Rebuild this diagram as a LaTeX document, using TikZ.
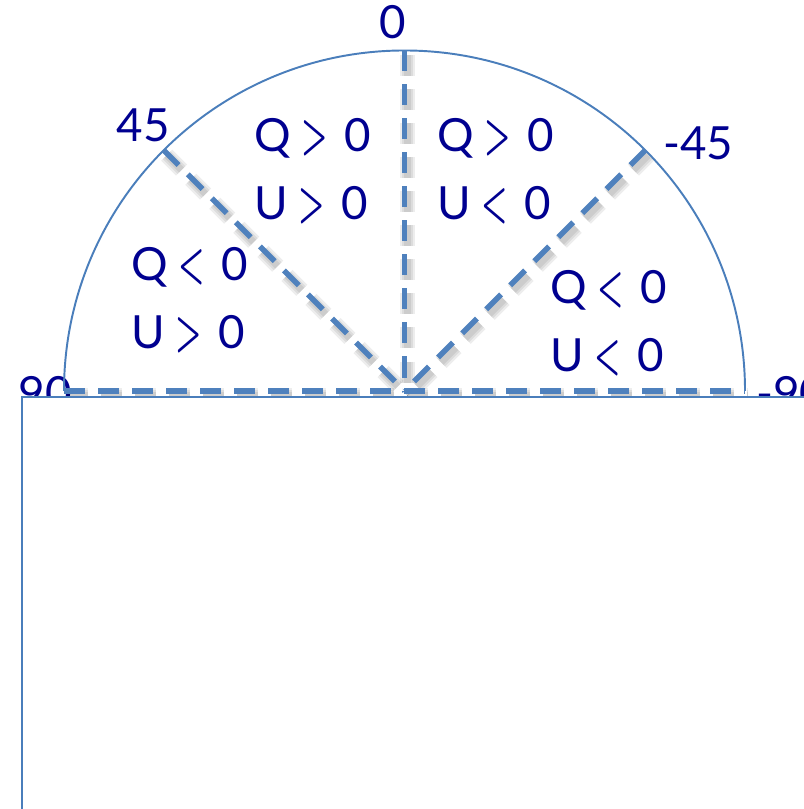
\documentclass[tikz,border=0pt]{standalone}
\usepackage{fontspec}
\usepackage{graphicx}
\setmainfont{Lato}
\usetikzlibrary{calc}
\definecolor{arcblue}{HTML}{4A7EBB}
\definecolor{dashblue}{HTML}{4F81BD}
\definecolor{lblnavy}{HTML}{000090}
\newcommand{\qgt}{\hspace{0.1cm}\scalebox{0.7}[1.25]{\boldmath$>$}\hspace{0.17cm}}
\newcommand{\qlt}{\hspace{0.1cm}\scalebox{0.7}[1.25]{\boldmath$<$}\hspace{0.17cm}}
\begin{document}
\begin{tikzpicture}[
    lbl/.style={text=lblnavy,font=\fontsize{13}{19.4}\selectfont,align=left,inner sep=0pt},
    ray/.style={dashblue,line width=1.6pt,dash pattern=on 0.21cm off 0.13cm},
    raysh/.style={black,opacity=0.07,line width=#1,dash pattern=on 0.21cm off 0.13cm}]
  \useasboundingbox (0,0) rectangle (8.03,8.09);
  \coordinate (O) at (4.045,4.18);
  \foreach \a/\n in {180/W,135/NW,90/N,45/NE,0/E}{ \coordinate (\n) at ($(O)+(\a:3.405)$); }
  % angle labels
  \node[lbl] (a0)  at (3.93,7.87) {0};
  \node[lbl] (a45) at (1.43,6.84) {45};
  \node[lbl] (am45) at (6.98,6.66) {-45};
  \node[lbl] (a90) at (0.45,4.16) {90};
  \node[lbl] (am90) at (7.91,4.16) {-90};
  % quadrants
  \node[lbl] (qa) at (3.13,6.38) {Q\qgt 0\\U\qgt 0};
  \node[lbl] (qb) at (4.96,6.38) {Q\qgt 0\\U\qlt 0};
  \node[lbl] (qc) at (1.90,5.085) {Q\qlt 0\\U\qgt 0};
  \node[lbl] (qd) at (6.09,4.855) {Q\qlt 0\\U\qlt 0};
  % half circle
  \draw[arcblue,line width=0.55pt] (E) arc[start angle=0,end angle=180,radius=3.405];
  % soft shadow of the rays
  \foreach \w in {4.5pt,3.2pt,2pt}{
    \foreach \n in {NW,N,NE}{ \draw[raysh=\w] ([shift={(0.03,-0.05)}]\n) -- ([shift={(0.03,-0.05)}]O); }
    \draw[raysh=\w] ([shift={(0.03,-0.05)}]W) -- ([shift={(0.03,-0.05)}]E);
  }
  % rays
  \draw[ray] (W) -- (E);
  \foreach \n in {NW,N,NE}{ \draw[ray] (\n) -- (O); }
  % box below
  \draw[arcblue,line width=0.6pt,fill=white] (0.22,4.12) rectangle (8.2,-0.2);
\end{tikzpicture}
\end{document}
